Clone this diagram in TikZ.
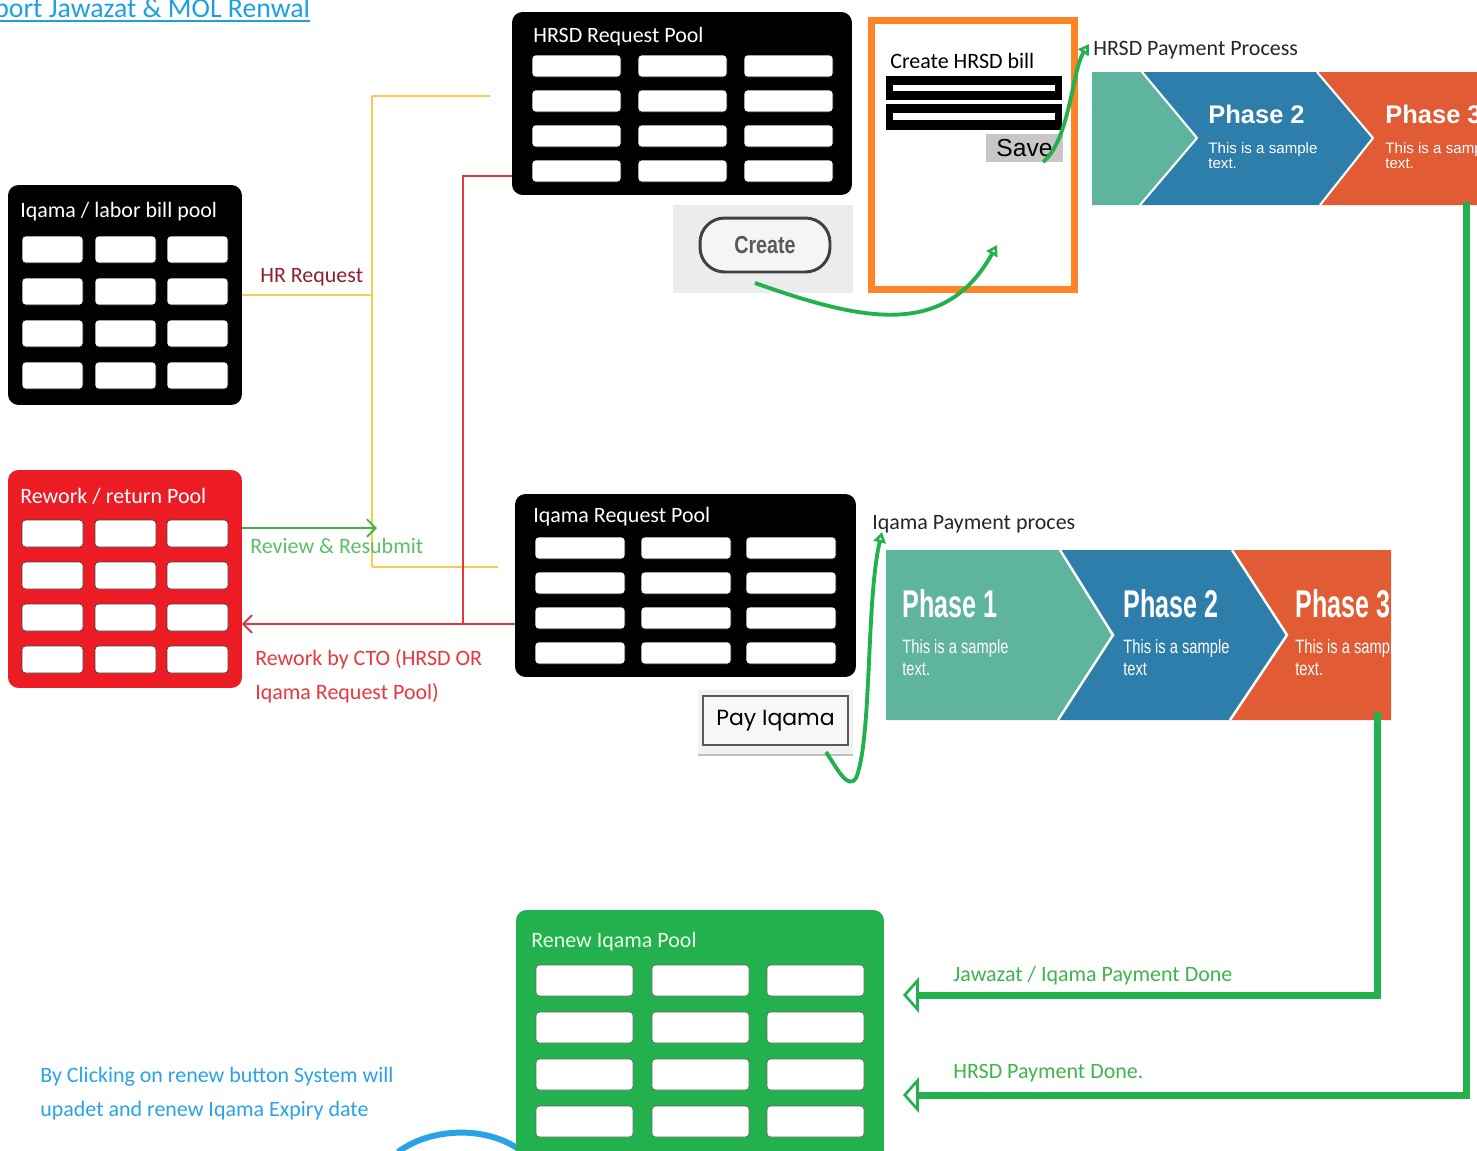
\documentclass[tikz,border=0pt]{standalone}
\usepackage{fontspec}
\setmainfont{Carlito}
\newfontfamily\phasefont{Liberation Sans}
\newfontfamily\popfont{Poppins}
\usepackage{tikz}
\usetikzlibrary{arrows.meta, positioning}
\definecolor{titleblue}{HTML}{1BA1E2}
\definecolor{reworkred}{HTML}{ED1C24}
\definecolor{renewgreen}{HTML}{22B14C}
\definecolor{hryellow}{HTML}{FFC94D}
\definecolor{ctored}{HTML}{E8383D}
\definecolor{hrred}{HTML}{8E1F2C}
\definecolor{notegreen}{HTML}{3DB54A}
\definecolor{noteblue}{HTML}{29A3E6}
\definecolor{billorange}{HTML}{FF8427}
\definecolor{phaseteal}{HTML}{5EB49D}
\definecolor{phaseblue}{HTML}{2E7EAC}
\definecolor{phaseorange}{HTML}{E15B34}
\definecolor{panelgray}{HTML}{ECECEC}
\tikzstyle{pool}=[rounded corners=6pt, inner sep=0pt, outer sep=0pt, anchor=north west]
\tikzstyle{panel}=[inner sep=0pt, outer sep=0pt, anchor=north west]
\tikzstyle{cell}=[fill=white, rounded corners=2pt]
\tikzstyle{lbl}=[font=\fontsize{12.5}{19.3}\selectfont, inner sep=0pt, anchor=base west]
\tikzstyle{phasetitle}=[font=\phasefont\bfseries\fontsize{22}{24}\selectfont, text=white, inner sep=0pt, anchor=base west]
\tikzstyle{phasenote}=[font=\phasefont\fontsize{11}{12.5}\selectfont, text=white, inner sep=0pt, anchor=base west, align=left]
\tikzstyle{gcurve}=[draw=renewgreen, line width=2.2pt, -{Triangle[open, length=6pt, width=7pt]}]
\tikzstyle{bigarrow}=[draw=renewgreen, line width=4pt, -{Triangle[open, length=9pt, width=20pt, line width=1.5pt]}]
\tikzstyle{yline}=[draw=hryellow, line width=1.6pt]
\tikzstyle{redline}=[draw=ctored, line width=1.1pt]
\tikzstyle{barb}=[-{Straight Barb[length=5pt, width=10pt]}]

\begin{document}
\begin{tikzpicture}[x=0.02cm, y=-0.02cm]
    \useasboundingbox (0,0) rectangle (1477,1150);
    \clip (0,0) rectangle (1477,1150);

    % title
    \node [lbl, text=titleblue, font=\fontsize{15.8}{18}\selectfont] (title) at (-6,17) {port Jawazat \& MOL Renwal};
    \draw [titleblue, line width=1.1pt] ([yshift=-2.4pt]title.base west) -- ([yshift=-2.4pt]title.base east);

    % left pools
    \node [pool, fill=black, minimum width=4.68cm, minimum height=4.4cm] (iqamapool) at (8,185) {};
    \node [lbl, text=white] (iqamapooltitle) at (20,217) {Iqama / labor bill pool};
    \foreach \cx in {22,95,167}
        \foreach \cy in {236,278,320,362}
            \draw [cell] (\cx,\cy) rectangle ++(61,27);

    \node [pool, fill=reworkred, minimum width=4.68cm, minimum height=4.36cm] (reworkpool) at (8,470) {};
    \node [lbl, text=white] (reworktitle) at (20,503) {Rework / return Pool};
    \foreach \cx in {22,95,167}
        \foreach \cy in {520,562,604,646}
            \draw [cell, draw=black!75] (\cx,\cy) rectangle ++(61,27);

    % HRSD request pool
    \node [pool, fill=black, minimum width=6.8cm, minimum height=3.66cm] (hrsdpool) at (512,12) {};
    \node [lbl, text=white] (hrsdtitle) at (533,42) {HRSD Request Pool};
    \foreach \cx in {532,638,744}
        \foreach \cy in {55,90,125,160}
            \draw [cell] (\cx,\cy) rectangle ++(89,22);

    \node [panel, fill=panelgray, minimum width=3.6cm, minimum height=1.76cm] (createpanel) at (673,205) {};
    \node [draw=black!75, line width=1.7pt, fill=black!4, rounded corners=14pt, minimum width=2.6cm, minimum height=1.08cm,
           font=\phasefont\bfseries\fontsize{14}{16}\selectfont, text=black!65] (createbtn) at (765,245) {\scalebox{0.8}[1]{Create}};

    % HRSD bill form
    \node [panel, draw=billorange, line width=4pt, minimum width=4.06cm, minimum height=5.38cm] (billbox) at (871.5,20.5) {};
    \node [lbl] (billtitle) at (890,68) {Create HRSD bill};
    \fill (886,76) rectangle (1062,100);
    \fill [white] (893,85) rectangle (1055,91);
    \fill (886,104) rectangle (1062,130);
    \fill [white] (893,113) rectangle (1055,120);
    \node [panel, fill=black!22, minimum width=1.54cm, minimum height=0.56cm,
           font=\phasefont\fontsize{14}{16}\selectfont] (savebtn) at (986,134) {Save};

    \coordinate (createfrom) at (755,283);
    \coordinate (billin) at (997,245);
    \draw [gcurve] (createfrom) .. controls (865,322) and (945,338) .. (billin);
    \coordinate (savefrom) at (1043,162);
    \coordinate (hrsdin) at (1089,44);
    \draw [gcurve] (savefrom) .. controls (1070,140) and (1072,70) .. (hrsdin);

    % HRSD payment process
    \node [lbl, text=black!85] (hrsdproc) at (1093,55) {HRSD Payment Process};
    \node [panel, minimum width=7.7cm, minimum height=2.66cm] (hrsdband) at (1092,72) {};
    \fill [phaseteal] (1092,72) -- (1142,72) -- (1197,138) -- (1140,205) -- (1092,205) -- cycle;
    \fill [phaseblue] (1142,72) -- (1317,72) -- (1373,138) -- (1320,205) -- (1140,205) -- (1197,138) -- cycle;
    \fill [phaseorange] (1317,72) -- (1477,72) -- (1477,205) -- (1320,205) -- (1373,138) -- cycle;
    \draw [white, line width=1.2pt] (1142,72) -- (1197,138) -- (1140,205);
    \draw [white, line width=1.2pt] (1317,72) -- (1373,138) -- (1320,205);
    \node [phasetitle, font=\phasefont\bfseries\fontsize{14.5}{16}\selectfont] (hrsdph2) at (1208,123) {Phase 2};
    \node [phasenote, font=\phasefont\fontsize{8.6}{8.5}\selectfont] (hrsdnote2) at (1208,168) {This is a sample\\text.};
    \node [phasetitle, font=\phasefont\bfseries\fontsize{14.5}{16}\selectfont] (hrsdph3) at (1385,123) {Phase 3};
    \node [phasenote, font=\phasefont\fontsize{8.6}{8.5}\selectfont] (hrsdnote3) at (1385,168) {This is a sample\\text.};

    % Iqama request pool
    \node [pool, fill=black, minimum width=6.82cm, minimum height=3.66cm] (iqamareqpool) at (515,494) {};
    \node [lbl, text=white] (iqamareqtitle) at (533,522) {Iqama Request Pool};
    \foreach \cx in {535,641,746}
        \foreach \cy in {537,572,607,642}
            \draw [cell] (\cx,\cy) rectangle ++(90,22);

    % HR request and rework connectors
    \coordinate (ytop) at (372,96);
    \coordinate (ybot) at (372,567);
    \coordinate (ytopend) at (490,96);
    \coordinate (ybotend) at (498,567);
    \draw [yline] (iqamapool.east) -- (iqamapool.east -| ytop);
    \draw [yline] (ytop) -- (ybot);
    \draw [yline] (ytop) -- (ytopend);
    \draw [yline] (ybot) -- (ybotend);
    \node [lbl, text=hrred] (hrreq) at (260,282) {HR Request};

    \coordinate (redtop) at (463,176);
    \coordinate (redjoin) at (463,624);
    \draw [redline] (hrsdpool.west |- redtop) -- (redtop) -- (redjoin);
    \draw [redline, barb] (iqamareqpool.west |- redjoin) -- (reworkpool.east |- redjoin);
    \node [lbl, text=ctored, align=left] (ctonote) at (255,699) {Rework by CTO (HRSD OR\\Iqama Request Pool)};

    \coordinate (revend) at (377,528);
    \draw [draw=notegreen, line width=1.1pt, barb] (reworkpool.east |- revend) -- (revend);
    \node [lbl, text=notegreen!85!white] (revnote) at (250,553) {Review \& Resubmit};

    \node [panel, fill=black!5, minimum width=3.1cm, minimum height=1.3cm] (paypanel) at (698,690) {};
    \draw [black!25, line width=1pt] (paypanel.south west) -- (paypanel.south east);
    \node [panel, draw=black!65, line width=1pt, fill=black!3, minimum width=2.9cm, minimum height=0.98cm,
           font=\popfont\fontsize{12.5}{14}\selectfont] (paybtn) at (703,696) {Pay Iqama};

    \coordinate (payfrom) at (826,752);
    \coordinate (iqamain) at (882,532);
    \draw [gcurve] (payfrom) .. controls (838,770) and (848,790) .. (856,778) .. controls (872,740) and (866,600) .. (iqamain);

    % Iqama payment process
    \node [lbl, text=black!85] (iqamaproc) at (872,529) {Iqama Payment proces};
    \node [panel, minimum width=10.1cm, minimum height=3.4cm] (iqamaband) at (886,550) {};
    \begin{scope}
        \clip (886,550) rectangle (1391,720);
        \fill [phaseteal] (886,550) -- (1060,550) -- (1113,635) -- (1058,720) -- (886,720) -- cycle;
        \fill [phaseblue] (1060,550) -- (1232,550) -- (1287,635) -- (1230,720) -- (1058,720) -- (1113,635) -- cycle;
        \fill [phaseorange] (1232,550) -- (1391,550) -- (1391,720) -- (1230,720) -- (1287,635) -- cycle;
        \draw [white, line width=1.4pt] (1060,550) -- (1113,635) -- (1058,720);
        \draw [white, line width=1.4pt] (1232,550) -- (1287,635) -- (1230,720);
        \node [phasetitle] (iqph1) at (902,617) {\scalebox{0.65}[1]{Phase 1}};
        \node [phasenote] (iqnote1) at (902,675) {\scalebox{0.76}[1]{This is a sample}\\\scalebox{0.76}[1]{text.}};
        \node [phasetitle] (iqph2) at (1123,617) {\scalebox{0.65}[1]{Phase 2}};
        \node [phasenote] (iqnote2) at (1123,675) {\scalebox{0.76}[1]{This is a sample}\\\scalebox{0.76}[1]{text}};
        \node [phasetitle] (iqph3) at (1295,617) {\scalebox{0.65}[1]{Phase 3}};
        \node [phasenote] (iqnote3) at (1295,675) {\scalebox{0.76}[1]{This is a sample}\\\scalebox{0.76}[1]{text.}};
    \end{scope}

    % renew pool
    \draw [noteblue, line width=3.4pt] (398,1152) .. controls (430,1128) and (485,1125) .. (520,1150);
    \node [pool, fill=renewgreen, minimum width=7.36cm, minimum height=5.2cm] (renewpool) at (516,910) {};
    \node [lbl, text=white!92!green] (renewtitle) at (531,947) {Renew Iqama Pool};
    \foreach \cx in {536,652,767}
        \foreach \cy in {965,1012,1059,1106}
            \draw [cell, draw=black!60] (\cx,\cy) rectangle ++(97,31);

    \coordinate (jawstart) at ([xshift=-7.4pt, yshift=4.5pt]iqamaband.south east);
    \coordinate (jawend) at (903,995);
    \draw [bigarrow] (jawstart) |- (jawend);
    \node [lbl, text=notegreen] (jawnote) at (953,981) {Jawazat / Iqama Payment Done};

    \coordinate (hrsdstart) at ([xshift=-6.2pt, yshift=1.5pt]hrsdband.south east);
    \coordinate (hrsdend) at (903,1095);
    \draw [bigarrow] (hrsdstart) |- (hrsdend);
    \node [lbl, text=notegreen] (hrsdnote) at (953,1078) {HRSD Payment Done.};

    \node [lbl, text=noteblue, align=left] (renewnote) at (40,1116) {By Clicking on renew button System will\\upadet and renew Iqama Expiry date};
\end{tikzpicture}
\end{document}
